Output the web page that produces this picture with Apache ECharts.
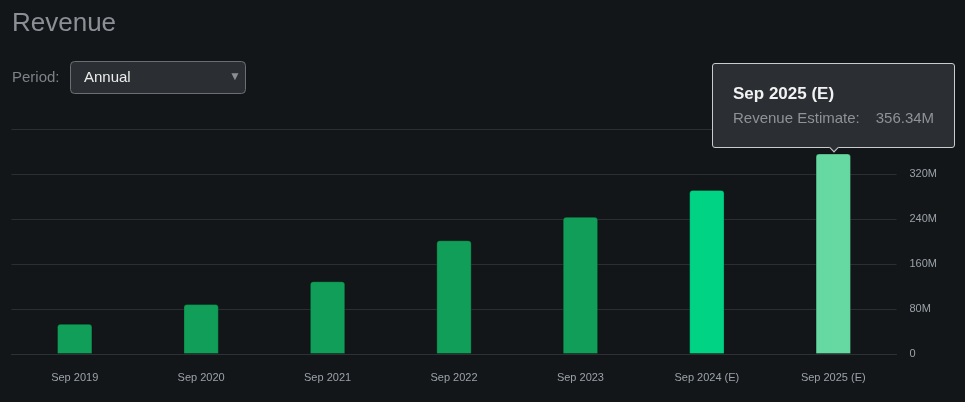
<!DOCTYPE html>
<html>
<head>
<meta charset="utf-8">
<script src="https://cdn.jsdelivr.net/npm/echarts@6/dist/echarts.min.js"></script>
<style>
html,body{margin:0;padding:0;background:#131619;}
#chart{width:965px;height:402px;}
</style>
</head>
<body>
<div id="chart"></div>
<script>
const categories = ['Sep 2019','Sep 2020','Sep 2021','Sep 2022','Sep 2023','Sep 2024 (E)','Sep 2025 (E)'];
const revenueM = [53.7, 88.8, 129.4, 202.2, 243.9, 291.7, 356.34];
const seriesLabels = ['Revenue','Revenue','Revenue','Revenue','Revenue','Revenue Estimate','Revenue Estimate'];
const barColors = ['#119e58','#119e58','#119e58','#119e58','#119e58','#00d484','#66d9a3'];
const yTicks = [0, 80, 160, 240, 320, 400];

const chart = echarts.init(document.getElementById('chart'));
const FONT = '"Liberation Sans", Arial, sans-serif';

chart.setOption({
  backgroundColor: '#131619',
  animation: false,
  textStyle: { fontFamily: FONT },
  title: {
    text: 'Revenue', left: 7, top: 6,
    textStyle: { color: '#8b9096', fontSize: 26, fontWeight: 'normal', fontFamily: FONT }
  },
  graphic: [
    { type: 'text', left: 12, top: 70, style: { text: 'Period:', fill: '#7d8287', font: '15px ' + FONT } },
    { type: 'rect', left: 70, top: 61, shape: { width: 175, height: 32, r: 4 },
      style: { fill: '#2b2e33', stroke: '#6b6f74', lineWidth: 1 } },
    { type: 'text', left: 84, top: 70, style: { text: 'Annual', fill: '#ececec', font: '15px ' + FONT } },
    { type: 'text', left: 229, top: 71, style: { text: '▼', fill: '#8a8f94', font: '12px ' + FONT } }
  ],
  grid: { left: 11.5, right: 68.5, top: 129, bottom: 48 },
  tooltip: {
    trigger: 'item',
    position: 'top',
    alwaysShowContent: true,
    transitionDuration: 0,
    showDelay: 0,
    backgroundColor: '#2b2e32',
    borderColor: '#c9cbcd',
    borderWidth: 1,
    borderRadius: 3,
    padding: [18, 20, 18, 20],
    extraCssText: 'box-shadow:none;margin-top:4px;',
    formatter: function (p) {
      return '<div style="font-family:' + FONT.replace(/"/g, "'") + ';">' +
        '<div style="color:#f2f2f2;font-weight:bold;font-size:17px;line-height:24px;">' + p.name + '</div>' +
        '<div style="color:#8e9398;font-size:15px;line-height:22px;margin-top:1px;">' +
        seriesLabels[p.dataIndex] + ':<span style="margin-left:16px;">' + p.value + 'M</span></div></div>';
    }
  },
  xAxis: {
    type: 'category',
    data: categories,
    axisLine: { show: true, lineStyle: { color: '#2d3135', width: 1 } },
    axisTick: { show: false },
    axisLabel: { color: '#9aa2a9', fontSize: 11, margin: 18, fontFamily: FONT }
  },
  yAxis: {
    type: 'value',
    position: 'right',
    min: 0, max: yTicks[yTicks.length - 1], interval: 80,
    axisLine: { show: false },
    axisTick: { show: false },
    splitLine: { lineStyle: { color: '#2b2f33', width: 1 } },
    axisLabel: {
      color: '#9aa2a9', fontSize: 11, margin: 13, fontFamily: FONT,
      formatter: function (v) { return v === 0 ? '0' : (v === yTicks[yTicks.length - 1] ? '' : v + 'M'); }
    }
  },
  series: [{
    type: 'bar',
    barWidth: '28%',
    data: revenueM.map((v, i) => ({
      value: v,
      itemStyle: { color: barColors[i], borderColor: 'rgba(0,0,0,0.25)', borderWidth: 1, borderRadius: [3, 3, 0, 0] }
    })),
    emphasis: { disabled: true }
  }]
});

chart.dispatchAction({ type: 'showTip', seriesIndex: 0, dataIndex: 6 });
</script>
</body>
</html>
